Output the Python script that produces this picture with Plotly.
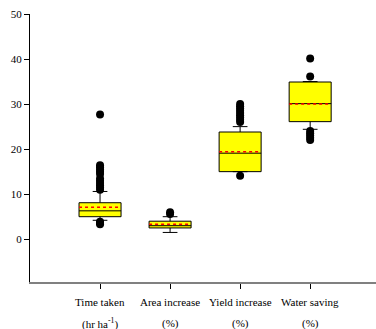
import plotly.graph_objects as go

categories = ["Time taken", "Area increase", "Yield increase", "Water saving"]
units = ["(hr ha<sup>-1</sup>)", "(%)", "(%)", "(%)"]
q1 = [5.0, 2.5, 15.0, 26.1]
median = [6.3, 3.0, 19.1, 30.1]
q3 = [8.1, 4.0, 23.8, 34.9]
mean = [7.1, 3.3, 19.4, 30.0]
lowerfence = [4.2, 1.5, 15.0, 24.4]
upperfence = [10.6, 5.0, 25.0, 35.0]
outliers = [
    [3.3, 3.6, 3.9, 11.0, 11.5, 12.0, 12.5, 13.0, 13.5, 14.5, 15.0, 15.5, 16.0, 16.4, 27.7],
    [5.6, 6.0],
    [14.1, 26.0, 26.5, 27.0, 27.5, 28.0, 28.5, 29.0, 29.5, 30.0],
    [22.0, 22.5, 23.0, 23.5, 24.0, 36.1, 40.1],
]

xs = list(range(len(categories)))
BOXW = 0.6
SERIF = "Liberation Serif, Times New Roman, serif"

fig = go.Figure()
fig.add_trace(go.Box(
    x=xs, q1=q1, median=median, q3=q3,
    lowerfence=lowerfence, upperfence=upperfence,
    width=BOXW, whiskerwidth=0.35,
    fillcolor="#FFFF00", line=dict(color="black", width=1),
    boxpoints=False, showlegend=False, hoverinfo="skip",
))
for i, m in enumerate(mean):
    fig.add_trace(go.Scatter(
        x=[xs[i] - BOXW / 2, xs[i] + BOXW / 2], y=[m, m], mode="lines",
        line=dict(color="#FF0000", width=1.5, dash="dot"), showlegend=False, hoverinfo="skip",
    ))
ox, oy = [], []
for i, vals in enumerate(outliers):
    ox += [xs[i]] * len(vals)
    oy += vals
fig.add_trace(go.Scatter(
    x=ox, y=oy, mode="markers",
    marker=dict(color="black", size=8), showlegend=False, hoverinfo="skip",
))

for i in xs:
    fig.add_annotation(x=xs[i], y=-0.075, xref="x", yref="paper", yanchor="middle", text=categories[i],
                       showarrow=False, font=dict(family=SERIF, size=11, color="black"))
    fig.add_annotation(x=xs[i], y=-0.153, xref="x", yref="paper", yanchor="middle", text=units[i],
                       showarrow=False, font=dict(family=SERIF, size=11, color="black"))

fig.update_layout(
    width=376, height=329,
    margin=dict(l=30, r=0, t=14, b=47),
    plot_bgcolor="white", paper_bgcolor="white",
    font=dict(family=SERIF, size=11, color="black"),
    xaxis=dict(range=[-1, 3.94], tickvals=xs, showticklabels=False, automargin=False,
               showgrid=False, zeroline=False, showline=True, linecolor="#808080", linewidth=2,
               ticks="outside", ticklen=5, tickcolor="black", tickwidth=1),
    yaxis=dict(range=[-9.5, 50], tickvals=[0, 10, 20, 30, 40, 50], automargin=False,
               showgrid=False, zeroline=False, showline=True, linecolor="black", linewidth=1,
               ticks="outside", ticklen=5, tickcolor="black", tickwidth=1,
               tickfont=dict(family=SERIF, size=11)),
)

fig.write_html("out.html", config={"displayModeBar": False},
               post_script="document.body.style.margin='0';document.body.style.overflow='hidden';")
